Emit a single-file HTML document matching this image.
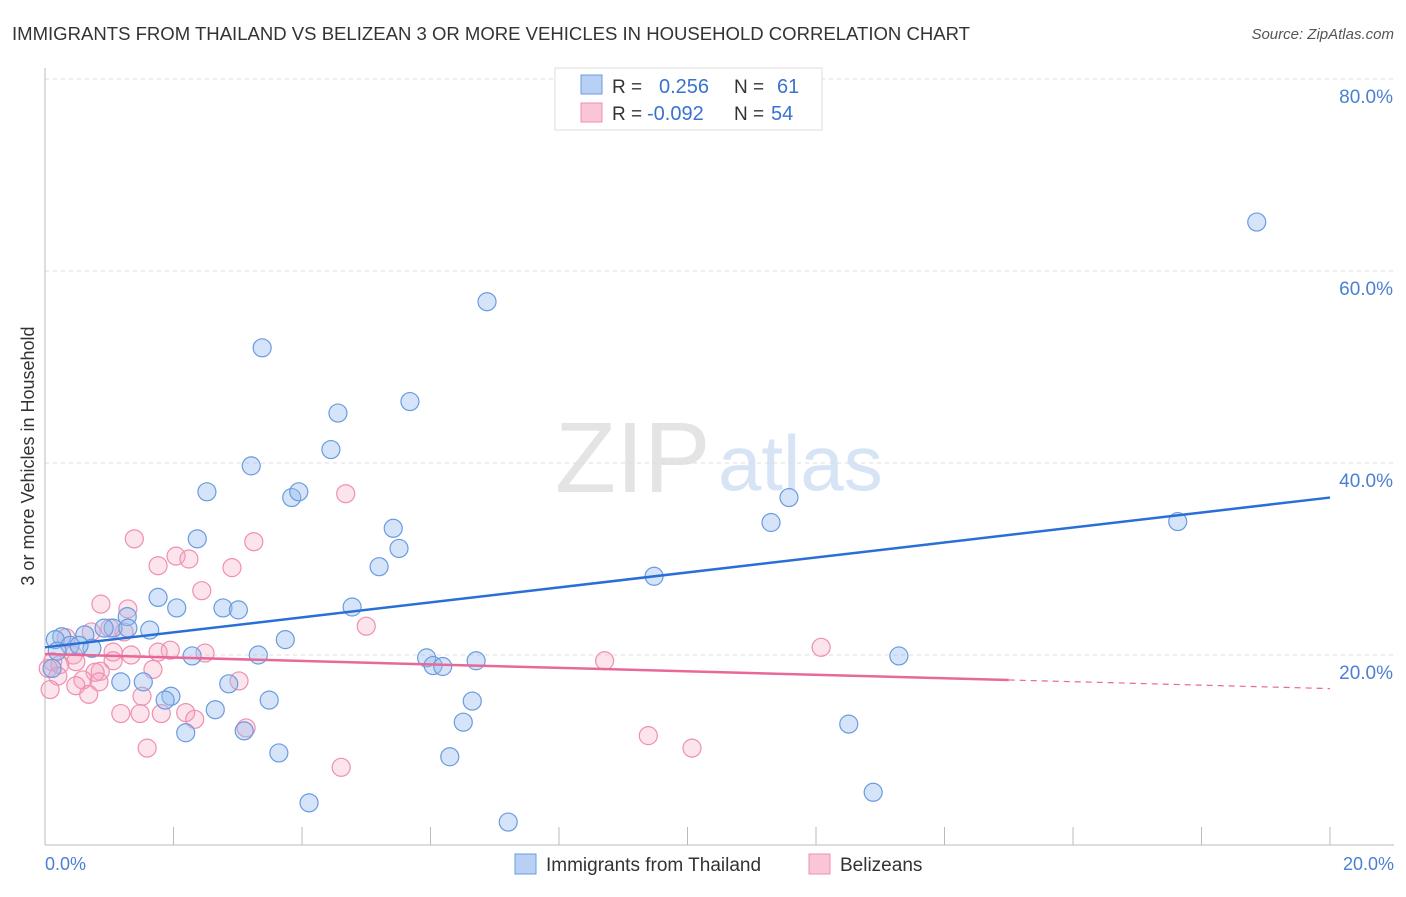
<!DOCTYPE html>
<html><head><meta charset="utf-8"><style>
body{margin:0;background:#fff;font-family:"Liberation Sans",sans-serif}
svg text{font-family:"Liberation Sans",sans-serif}
</style></head><body>
<svg id="chart" width="1406" height="892" xmlns="http://www.w3.org/2000/svg">
<text x="12" y="40" font-size="18" fill="#333" textLength="958" lengthAdjust="spacingAndGlyphs">IMMIGRANTS FROM THAILAND VS BELIZEAN 3 OR MORE VEHICLES IN HOUSEHOLD CORRELATION CHART</text>
<text x="1394" y="39" font-size="15" fill="#555" text-anchor="end" font-style="italic">Source: ZipAtlas.com</text>
<text x="555" y="492" font-size="100" fill="#e4e4e4" font-family="Liberation Serif,serif">ZIP</text>
<text x="718" y="490" font-size="78" fill="#d6e4f5">atlas</text>
<g id="grid"></g>
<line x1="45" y1="68" x2="45" y2="845" stroke="#bbb"/>
<line x1="45" y1="845" x2="1394" y2="845" stroke="#bbb"/>
<text x="34" y="456" font-size="18" fill="#333" text-anchor="middle" transform="rotate(-90 34 456)">3 or more Vehicles in Household</text>
<text x="45" y="870" font-size="18" fill="#4a7fd4">0.0%</text>
<text x="1394" y="870" font-size="18" fill="#4a7fd4" text-anchor="end">20.0%</text>
<g id="marks"></g>
<g>
<rect x="555" y="68" width="267" height="62" fill="#fff" stroke="#ddd"/>
<rect x="581" y="75" width="21" height="19" fill="#b8d0f3" stroke="#6a9be0"/>
<rect x="581" y="103" width="21" height="19" fill="#f8c6d6" stroke="#ef8fb0"/>
<text x="612" y="93" font-size="19" fill="#333">R =</text><text x="659" y="93" font-size="20" fill="#3a72d0">0.256</text>
<text x="734" y="93" font-size="19" fill="#333">N =</text><text x="777" y="93" font-size="20" fill="#3a72d0">61</text>
<text x="612" y="120" font-size="19" fill="#333">R =</text><text x="647" y="120" font-size="20" fill="#3a72d0">-0.092</text>
<text x="734" y="120" font-size="19" fill="#333">N =</text><text x="771" y="120" font-size="20" fill="#3a72d0">54</text>
</g>
<g>
<rect x="515" y="854" width="21" height="20" fill="#b8d0f3" stroke="#6a9be0"/>
<text x="546" y="871" font-size="19" fill="#333">Immigrants from Thailand</text>
<rect x="809" y="854" width="21" height="20" fill="#f8c6d6" stroke="#ef8fb0"/>
<text x="840" y="871" font-size="19" fill="#333">Belizeans</text>
</g>
</svg>
<script>
const yTicks=[20,40,60,80];
const xTicks=[0,2,4,6,8,10,12,14,16,18,20];
const blueX=[18.86,6.88,3.38,4.56,5.68,4.45,3.21,2.52,3.84,3.95,11.58,11.30,17.63,5.42,5.51,2.37,5.20,9.48,1.76,2.05,2.77,3.01,4.78,1.28,1.63,1.06,0.92,0.62,0.26,0.16,0.39,0.73,0.53,0.19,3.74,3.32,2.29,5.94,6.04,6.19,6.71,13.29,1.18,1.53,1.96,1.87,2.86,3.49,2.65,6.65,6.51,12.51,2.19,3.10,3.64,6.30,12.89,4.11,7.21,0.11,1.29];
const blueY=[65.1,56.8,52.0,45.2,46.4,41.4,39.7,37.0,36.4,37.0,36.4,33.8,33.9,33.2,31.1,32.1,29.2,28.2,26.0,24.9,24.9,24.7,25.0,24.0,22.6,22.8,22.8,22.1,21.9,21.6,21.0,20.7,21.0,20.4,21.6,20.0,19.9,19.7,18.9,18.8,19.4,19.9,17.2,17.2,15.7,15.3,17.0,15.3,14.3,15.2,13.0,12.8,11.9,12.1,9.8,9.4,5.7,4.6,2.6,18.6,22.8];
const pinkX=[4.68,1.39,3.25,2.04,2.24,1.76,2.91,2.44,0.87,1.29,5.0,0.72,1.23,0.33,12.08,1.95,1.76,2.49,1.06,1.34,0.44,8.71,0.12,0.48,1.06,0.23,0.05,1.68,0.86,0.78,0.2,0.59,0.84,3.02,0.48,0.08,0.68,1.51,1.18,1.48,1.81,2.19,3.13,1.59,9.39,10.07,4.61,1.01,2.33];
const pinkY=[36.8,32.1,31.8,30.3,30.0,29.3,29.1,26.7,25.3,24.8,23.0,22.4,22.4,21.8,20.8,20.5,20.3,20.2,20.3,20.0,20.0,19.4,19.3,19.3,19.4,19.0,18.6,18.5,18.3,18.2,17.8,17.4,17.2,17.3,16.8,16.4,15.9,15.7,13.9,13.9,13.9,14.0,12.4,10.3,11.6,10.3,8.3,22.8,13.3];
const blueTrend=[20.8,36.4];
const pinkTrend=[20.1,16.5];
const NS='http://www.w3.org/2000/svg';
const sx=v=>45+v/20*1285;
const sy=v=>847-v*9.6;
const grid=document.getElementById('grid'),marks=document.getElementById('marks');
function mk(tag,attrs,parent){const e=document.createElementNS(NS,tag);for(const k in attrs)e.setAttribute(k,attrs[k]);parent.appendChild(e);return e;}
yTicks.forEach(t=>{
 const l=mk('line',{x1:45,x2:1394,y1:sy(t),y2:sy(t),stroke:'#ddd','stroke-dasharray':'4,4'},grid);
 
 
 const tx=mk('text',{x:1393,y:sy(t)+24,'font-size':19,fill:'#4a7fd4','text-anchor':'end'},grid);
 tx.textContent=t.toFixed(1)+'%';
 
 
});
xTicks.forEach(t=>{
 const l=mk('line',{x1:sx(t),x2:sx(t),y1:827,y2:845,stroke:'#bbb'},grid);
 
 
});
pinkX.forEach((x,i)=>{
 const c=mk('circle',{cx:sx(x),cy:sy(pinkY[i]),r:9,fill:'rgba(245,165,192,0.3)',stroke:'#ef8fb0','stroke-width':1.2},marks);
 
 
});
blueX.forEach((x,i)=>{
 const c=mk('circle',{cx:sx(x),cy:sy(blueY[i]),r:9,fill:'rgba(150,188,238,0.4)',stroke:'#6a9be0','stroke-width':1.2},marks);
 
 
});
const bt=mk('line',{x1:sx(0),y1:sy(blueTrend[0]),x2:sx(20),y2:sy(blueTrend[1]),stroke:'#2a6fd6','stroke-width':2.5},marks);


const pe=v=>pinkTrend[0]+(pinkTrend[1]-pinkTrend[0])*v/20;
const pt=mk('line',{x1:sx(0),y1:sy(pe(0)),x2:sx(15),y2:sy(pe(15)),stroke:'#e8689a','stroke-width':2.5},marks);


const pd=mk('line',{x1:sx(15),y1:sy(pe(15)),x2:sx(20),y2:sy(pe(20)),stroke:'#e8689a','stroke-width':1.2,'stroke-dasharray':'6,5'},marks);


</script>
</body></html>
